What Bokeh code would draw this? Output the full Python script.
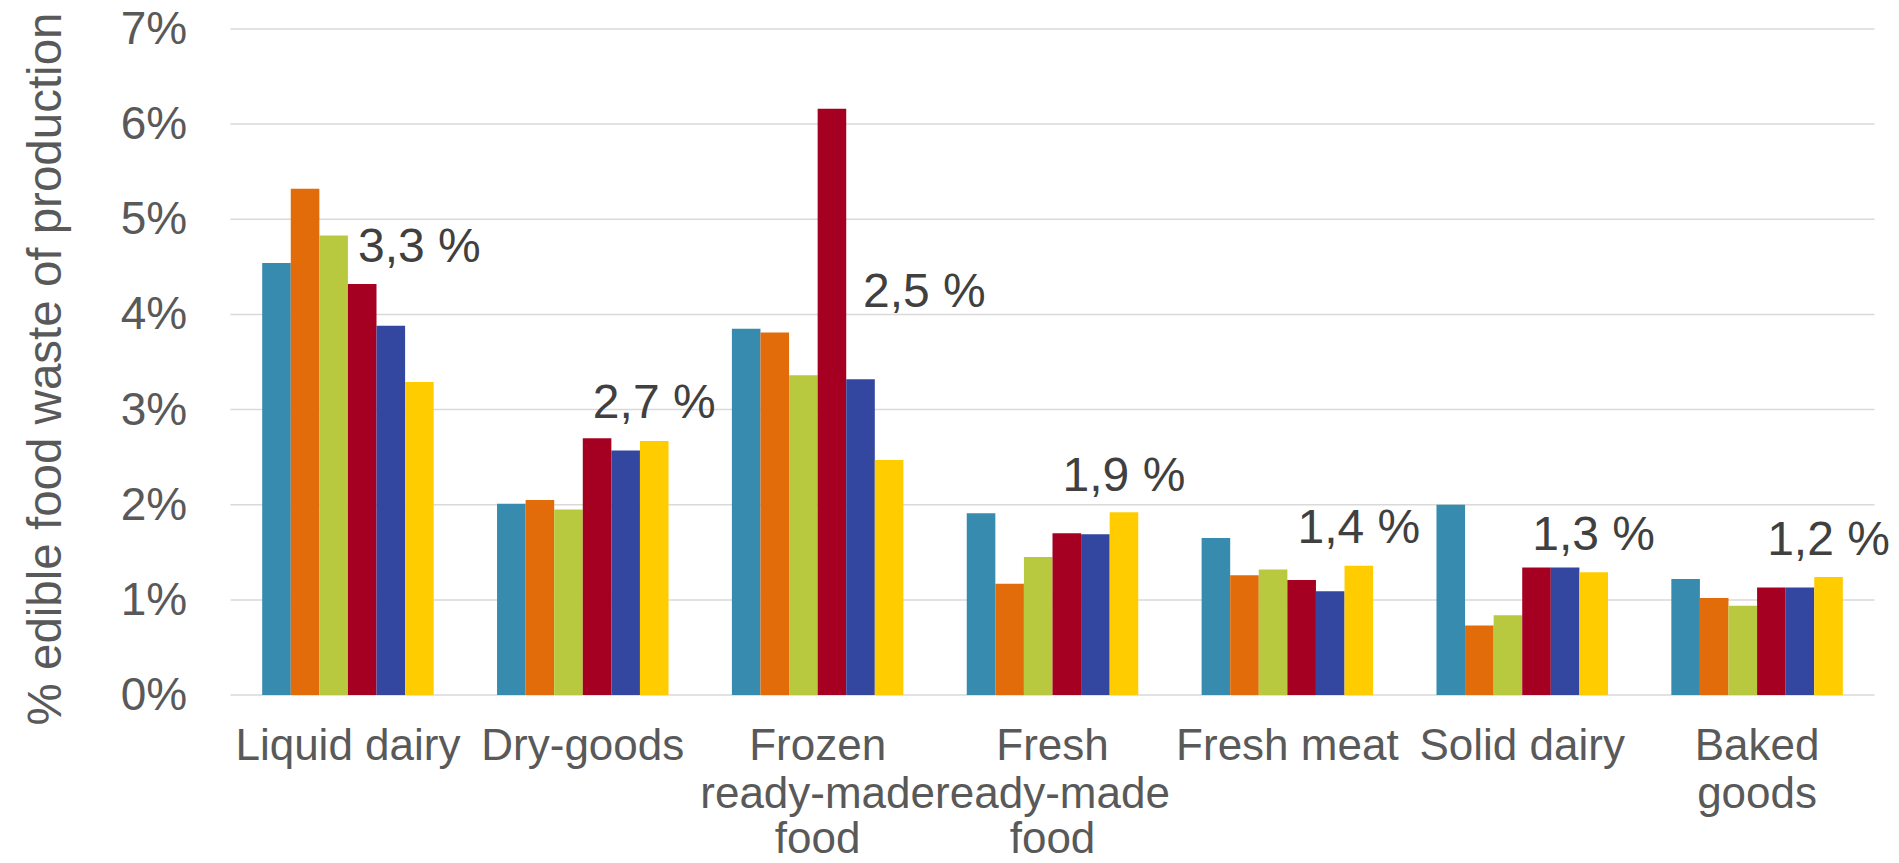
import math
from bokeh.plotting import figure
from bokeh.models import ColumnDataSource
from bokeh.core.properties import value
from bokeh.embed import file_html
from bokeh.resources import INLINE

# ---- data ----
categories = ["Liquid dairy", "Dry-goods", "Frozen\nready-made\nfood", "Fresh\nready-made\nfood",
              "Fresh meat", "Solid dairy", "Baked\ngoods"]
series_1 = [4.54, 2.01, 3.85, 1.91, 1.65, 2.00, 1.22]
series_2 = [5.32, 2.05, 3.81, 1.17, 1.26, 0.73, 1.02]
series_3 = [4.83, 1.95, 3.36, 1.45, 1.32, 0.84, 0.94]
series_4 = [4.32, 2.70, 6.16, 1.70, 1.21, 1.34, 1.13]
series_5 = [3.88, 2.57, 3.32, 1.69, 1.09, 1.34, 1.13]
series_6 = [3.29, 2.67, 2.47, 1.92, 1.36, 1.29, 1.24]
label_texts = ["3,3 %", "2,7 %", "2,5 %", "1,9 %", "1,4 %", "1,3 %", "1,2 %"]
y_ticks = [0, 1, 2, 3, 4, 5, 6, 7]
y_tick_labels = ["0%", "1%", "2%", "3%", "4%", "5%", "6%", "7%"]
y_title = "% edible food waste of production"

series = [series_1, series_2, series_3, series_4, series_5, series_6]
colors = ["#378BAF", "#E36C0A", "#B9C93F", "#A50021", "#3346A0", "#FFCC00"]

FONT = "Liberation Sans"
W, H = 1899, 863
ncat = len(categories)
# the frame covers the whole canvas, so every text drawn in it stays visible
p = figure(width=W, height=H, x_range=(-0.9793, ncat + 0.1064), y_range=(-1.7695, 7.2984),
           output_backend="svg", toolbar_location=None,
           min_border_left=0, min_border_right=0, min_border_top=0, min_border_bottom=0)
p.outline_line_color = None
p.background_fill_color = "white"
p.border_fill_color = "white"
p.xaxis.visible = False
p.yaxis.visible = False
p.xgrid.grid_line_color = None
p.ygrid.grid_line_color = None

# horizontal gridlines over the category span
p.segment(x0=[0] * len(y_ticks), x1=[ncat] * len(y_ticks), y0=y_ticks, y1=y_ticks,
          line_color="#D9D9D9", line_width=1.5)

bw = 0.1217
n = len(series)
for j, (vals, c) in enumerate(zip(series, colors)):
    xs = [i + 0.5 + (j - (n - 1) / 2) * bw for i in range(ncat)]
    src = ColumnDataSource(dict(x=xs, top=vals))
    p.vbar(x="x", top="top", bottom=0, width=bw, source=src, fill_color=c, line_color=None)

# data labels above the last series (nudged like the original where bars collide)
label_base = [4.56, 2.92, 4.08, 2.15, 1.60, 1.53, 1.48]
label_shift = [0, 0, 0.15, 0, 0, 0, 0]
lx = [i + 0.5 + ((n - 1) / 2) * bw + s for i, s in enumerate(label_shift)]
p.text(x=lx, y=label_base, text=label_texts, text_align="center", text_baseline="alphabetic",
       y_offset=-16, text_font=value(FONT), text_font_size="48px", text_color="#404040")

# category names, line by line under the zero line
line_y = [-0.687, -1.192, -1.665]
cx, cy, ct = [], [], []
for i, cat in enumerate(categories):
    for k, line in enumerate(cat.split("\n")):
        cx.append(i + 0.5)
        cy.append(line_y[k])
        ct.append(line)
p.text(x=cx, y=cy, text=ct, text_align="center", text_baseline="alphabetic", y_offset=-16,
       text_font=value(FONT), text_font_size="44px", text_color="#595959")

# y tick labels, placed through the y scale at the tick values
p.text(x=[-0.1844] * len(y_ticks), y=y_ticks, text=y_tick_labels, text_align="right",
       text_baseline="alphabetic", y_offset=-1, text_font=value(FONT),
       text_font_size="46px", text_color="#595959")

# y axis title (rotated)
p.text(x=[-0.792], y=[-0.319], text=[y_title], angle=math.pi / 2, text_align="left",
       text_baseline="alphabetic", text_font=value(FONT), text_font_size="47.5px",
       text_color="#595959")

open("out.html", "w").write(file_html(p, INLINE))
